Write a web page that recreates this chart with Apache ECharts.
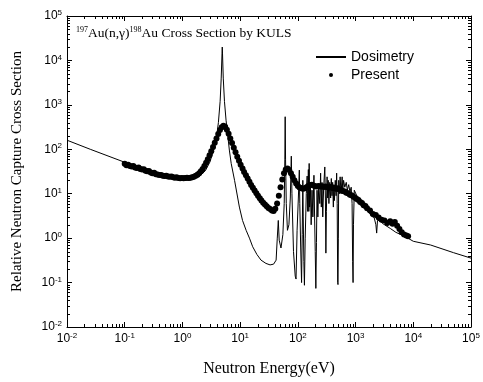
<!DOCTYPE html>
<html>
<head>
<meta charset="utf-8">
<script src="https://cdn.jsdelivr.net/npm/echarts@6/dist/echarts.min.js"></script>
<style>html,body{margin:0;padding:0;background:#fff}#c{width:483px;height:382px}</style>
</head>
<body>
<div id="c"></div>
<script>
// Axis ranges and tick decoration
const xRange = [0.01, 100000];
const yRange = [0.01, 100000];
const tickDecades = [-2, -1, 0, 1, 2, 3, 4];
const minorMultipliers = [2, 3, 4, 5, 6, 7, 8, 9];

// Dosimetry evaluated cross section: [energy eV, relative cross section]
const dosimetry = [
[0.01,160],[0.0253,100],[0.1,51],[0.3,30],[0.6,22.5],[1.0,20],[1.5,21],[2.0,25],[2.5,33],[3.0,52],
[3.5,100],[3.9,190],[4.2,400],[4.5,1200],[4.7,4000],[4.85,14000],[4.9,20000],[4.95,14000],[5.1,4000],[5.35,1200],
[5.7,450],[6.0,250],[6.5,96],[7.0,48],[8.0,20],[9.7,5],[11,2.5],[12.7,1.5],[14.5,1.0],[16.5,0.64],
[19.5,0.43],[23,0.32],[28,0.27],[33,0.25],[38,0.26],[42,0.32],[44,1.0],[45.8,2.5],[47.5,0.9],[51,0.6],
[55,1.2],[58,6],[59.5,60],[60.3,540],[61.2,60],[63,6],[66,1.5],[70,2.0],[74,8],[77,70],
[79,10],[84,0.5],[90,0.14],[93,0.12],[97,1.5],[102,8],[106,34],[108,6],[112,0.6],[116,0.1],
[119,1.2],[122,20],[124,3],[127,0.3],[130,0.087],[134,1.0],[140,10],[145,25],[148,4],[152,35],
[155,4],[157,48],[160,5],[165,14],[170,2],[176,12],[182,3],[190,26],[195,3],[200,0.5],
[205,0.074],[210,0.8],[215,12],[222,3],[230,15],[240,6],[248,29],[255,5],[262,18],[270,3],
[280,14],[293,40],[300,8],[306,0.46],[312,4],[321,24],[329,8],[336,20],[345,6],[357,18],
[370,8],[380,22],[390,9],[401,18],[412,5],[420,16],[430,7],[445,20],[460,9],[470,29],
[480,6],[490,0.1],[496,0.09],[503,1],[510,20],[525,10],[540,24],[560,10],[585,24],[600,12],
[620,20],[650,14],[690,18],[720,12],[760,16],[800,11],[840,14],[870,6],[890,0.3],[905,0.1],
[920,2],[950,12],[1000,12],[1050,9],[1100,8.5],[1150,6.5],[1200,7],[1300,5.5],[1400,5.2],[1550,4.2],
[1700,3.8],[1900,3.1],[2100,2.9],[2250,2.0],[2320,1.3],[2400,2.5],[2600,2.5],[3000,2.1],[4000,1.65],[5000,1.35],
[7360,1.07],[10000,0.85],[20000,0.7],[50000,0.47],[100000,0.355]
];

// Present measurement (KULS): [energy eV, relative cross section]
const present = [
[0.100,47],[0.107,44],[0.115,45],[0.123,42],[0.132,41],[0.141,42],[0.151,39],[0.162,38],[0.174,39],[0.186,36],
[0.200,35],[0.214,35.5],[0.229,33],[0.245,32],[0.263,32.5],[0.282,30],[0.302,29],[0.324,29.5],[0.347,27.5],[0.372,27],
[0.398,26.5],[0.427,26.5],[0.457,25.5],[0.490,25],[0.525,25.5],[0.562,24.5],[0.603,24],[0.646,24.3],[0.692,23.5],[0.741,23],
[0.794,23.4],[0.851,22.6],[0.912,22.4],[0.977,22.7],[1.05,22.3],[1.12,22.5],[1.20,22.8],[1.29,22.6],[1.38,23.0],[1.48,23.6],
[1.58,24.2],[1.70,25.3],[1.82,26.8],[1.95,29],[2.09,32],[2.24,36],[2.40,42],[2.57,50],[2.75,60],[2.95,73],
[3.16,90],[3.39,112],[3.63,140],[3.89,175],[4.17,220],[4.47,270],[4.79,315],[5.13,340],[5.50,320],[5.89,275],
[6.31,225],[6.76,175],[7.24,138],[7.76,108],[8.32,86],[8.91,68],[9.55,55],[10.2,45],[11.0,37],[11.7,31],
[12.6,26],[13.5,22],[14.5,18.5],[15.5,15.8],[16.6,13.6],[17.8,11.8],[19.1,10.3],[20.4,9.0],[21.9,7.9],[23.4,7.0],
[25.1,6.3],[26.9,5.7],[28.8,5.2],[30.9,4.8],[33.1,4.5],[35.5,4.2],[38.0,4.1],[40.7,4.6],[43.7,6.0],[46.8,9.0],
[50.1,14],[53.7,21],[57.5,29],[61.7,35],[66.1,37],[70.8,34],[75.9,29],[81.3,24],[87.1,20],[93.3,17],
[100,15],[107,13.8],[115,13.2],[123,13.0],[132,13.3],[141,14.0],[151,15.0],[162,15.8],[174,16.0],[186,15.4],
[200,14.8],[214,14.6],[229,15.0],[245,14.5],[263,14.8],[282,14.2],[302,14.6],[324,14.0],[347,13.8],[372,14.2],
[398,13.5],[427,13.6],[457,13.0],[490,13.2],[525,12.4],[562,12.2],[603,11.5],[646,11.2],[692,10.5],[741,10.2],
[794,9.5],[851,9.2],[912,8.6],[977,8.1],[1050,7.6],[1120,7.2],[1200,6.5],[1290,6.2],[1380,5.5],[1480,5.3],
[1580,4.7],[1780,4.2],[2000,3.5],[2240,3.3],[2510,2.9],[2820,2.6],[3160,2.5],[3550,2.2],[3980,2.4],[4370,2.1],
[4790,2.3],[5250,1.9],[5750,1.6],[6310,1.35],[6920,1.2],[7590,1.15],[8130,1.1]
];

const SANS = "'Liberation Sans', Arial, sans-serif";
const SERIF = "'Liberation Serif', 'Times New Roman', serif";

function powLabel(v) {
  const e = Math.round(Math.log10(v));
  return '{b|10}{s|' + e + '}';
}
const labelRich = {
  b: { fontSize: 12, fontFamily: SANS, color: '#000', lineHeight: 14 },
  s: { fontSize: 8, fontFamily: SANS, color: '#000', lineHeight: 8, verticalAlign: 'top' }
};

function logAxis(extra) {
  return Object.assign({
    type: 'log', logBase: 10, gridIndex: 0,
    axisLine: { show: true, onZero: false, lineStyle: { color: '#000', width: 1 } },
    axisTick: { show: true, inside: true, length: 5, lineStyle: { color: '#000', width: 1 } },
    splitLine: { show: false },
    minorTick: { show: false },
    minorSplitLine: { show: false }
  }, extra);
}

const chart = echarts.init(document.getElementById('c'), null, { renderer: 'canvas' });

chart.setOption({
  backgroundColor: '#fff',
  animation: false,
  grid: { left: 67, right: 12, top: 16, bottom: 55, containLabel: false },
  title: {
    text: '{s|197}{t|Au(n,\u03b3)}{s|198}{t|Au Cross Section by KULS}',
    left: 76, top: 26, padding: 0,
    textStyle: {
      fontWeight: 'normal',
      rich: {
        t: { fontSize: 13.5, fontFamily: SERIF, fontWeight: 'normal', color: '#000', lineHeight: 15 },
        s: { fontSize: 8, fontFamily: SERIF, fontWeight: 'normal', color: '#000', lineHeight: 8, verticalAlign: 'top' }
      }
    }
  },
  legend: {
    orient: 'vertical', left: 315, top: 50, padding: 0,
    itemWidth: 30, itemHeight: 4, itemGap: 4,
    textStyle: { fontFamily: SANS, fontSize: 14, color: '#000' },
    data: [
      { name: 'Dosimetry', itemStyle: { opacity: 0 } },
      { name: 'Present', icon: 'circle' }
    ]
  },
  xAxis: [
    logAxis({
      position: 'bottom', min: xRange[0], max: xRange[1],
      name: 'Neutron Energy(eV)', nameLocation: 'middle', nameGap: 34,
      nameTextStyle: { fontFamily: SERIF, fontSize: 16, color: '#000' },
      axisLabel: { show: true, margin: 5, formatter: powLabel, rich: labelRich }
    }),
    logAxis({
      position: 'top', min: xRange[0], max: xRange[1],
      axisLabel: { show: false }
    })
  ],
  yAxis: [
    logAxis({
      position: 'left', min: yRange[0], max: yRange[1],
      name: 'Relative Neutron Capture Cross Section', nameLocation: 'middle', nameGap: 42,
      nameTextStyle: { fontFamily: SERIF, fontSize: 15, color: '#000' },
      axisLabel: { show: true, margin: 5, formatter: powLabel, rich: labelRich }
    }),
    logAxis({
      position: 'right', min: yRange[0], max: yRange[1],
      axisLabel: { show: false }
    })
  ],
  series: [
    {
      name: 'Present', type: 'scatter', xAxisIndex: 0, yAxisIndex: 0,
      data: present, symbol: 'circle', symbolSize: 6,
      itemStyle: { color: '#000', opacity: 1 }, z: 2
    },
    {
      name: 'Dosimetry', type: 'line', xAxisIndex: 0, yAxisIndex: 0,
      data: dosimetry, symbol: 'none', showSymbol: false, smooth: false,
      lineStyle: { color: '#000', width: 1 }, itemStyle: { color: '#000' }, z: 3
    },
    {
      name: 'minorTicks', type: 'custom', xAxisIndex: 0, yAxisIndex: 0,
      data: [[1, 1]], silent: true, z: 4,
      renderItem: function (params, api) {
        const cs = params.coordSys;
        const children = [];
        const st = { stroke: '#000', lineWidth: 1 };
        const L = 3;
        tickDecades.forEach(function (d) {
          minorMultipliers.forEach(function (m) {
            const v = m * Math.pow(10, d);
            const px = Math.round(api.coord([v, 1])[0]) + 0.5;
            const py = Math.round(api.coord([1, v])[1]) + 0.5;
            const b = cs.y + cs.height, r = cs.x + cs.width;
            children.push({ type: 'line', shape: { x1: px, y1: b, x2: px, y2: b - L }, style: st });
            children.push({ type: 'line', shape: { x1: px, y1: cs.y, x2: px, y2: cs.y + L }, style: st });
            children.push({ type: 'line', shape: { x1: cs.x, y1: py, x2: cs.x + L, y2: py }, style: st });
            children.push({ type: 'line', shape: { x1: r, y1: py, x2: r - L, y2: py }, style: st });
          });
        });
        return { type: 'group', children: children };
      }
    }
  ]
});
</script>
</body>
</html>
